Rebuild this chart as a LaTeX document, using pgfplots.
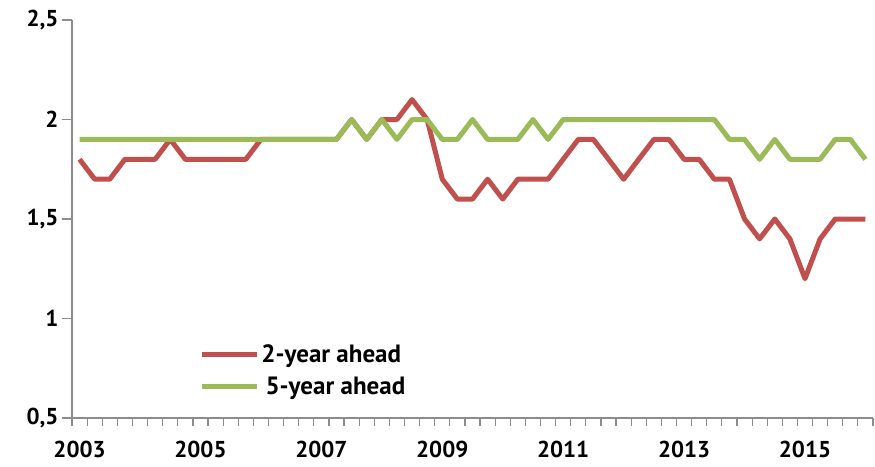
\documentclass[border=0pt]{standalone}
\usepackage{pgfplots}
\pgfplotsset{compat=1.18}
\usepackage{fontspec}
\setmainfont{PT Sans}

\definecolor{redline}{HTML}{C0504D}
\definecolor{greenline}{HTML}{9BBB59}
\definecolor{axisgray}{HTML}{8C8C8C}

\begin{document}
\begin{tikzpicture}
\begin{axis}[
    scale only axis,
    width=801pt, height=398pt,
    xmin=-0.5, xmax=52.5,
    ymin=0.5, ymax=2.5,
    axis x line*=bottom,
    axis y line*=left,
    axis line style={axisgray, line width=1.2pt},
    xtick={0,8,16,24,32,40,48},
    xticklabels={2003,2005,2007,2009,2011,2013,2015},
    minor xtick={-0.5,0.5,...,52.5},
    major x tick style={draw=none},
    minor tick length=8pt,
    ytick={0.5,1,1.5,2,2.5},
    major tick length=10pt,
    tick align=outside,
    tick style={axisgray, line width=1.2pt},
    /pgf/number format/use comma,
    /pgf/number format/assume math mode=true,
    tick label style={font=\fontsize{23}{26}\selectfont\bfseries},
    xticklabel style={yshift=-10pt},
    legend style={
        draw=none, fill=none,
        at={(0.155,0.195)}, anchor=north west,
        font=\fontsize{25}{28}\selectfont\bfseries,
        row sep=9pt,
        legend cell align=left,
    },
    legend image code/.code={\draw[#1] (0pt,0pt) -- (55pt,0pt);},
]
\addplot[redline, line width=5pt, line join=round] coordinates {
    (0,1.8) (1,1.7) (2,1.7) (3,1.8) (4,1.8) (5,1.8) (6,1.9) (7,1.8) (8,1.8) (9,1.8)
    (10,1.8) (11,1.8) (12,1.9) (13,1.9) (14,1.9) (15,1.9) (16,1.9) (17,1.9) (18,2.0) (19,1.9)
    (20,2.0) (21,2.0) (22,2.1) (23,2.0) (24,1.7) (25,1.6) (26,1.6) (27,1.7) (28,1.6) (29,1.7)
    (30,1.7) (31,1.7) (32,1.8) (33,1.9) (34,1.9) (35,1.8) (36,1.7) (37,1.8) (38,1.9) (39,1.9)
    (40,1.8) (41,1.8) (42,1.7) (43,1.7) (44,1.5) (45,1.4) (46,1.5) (47,1.4) (48,1.2) (49,1.4)
    (50,1.5) (51,1.5) (52,1.5)
};
\addlegendentry{2-year ahead}
\addplot[greenline, line width=5pt, line join=round] coordinates {
    (0,1.9) (1,1.9) (2,1.9) (3,1.9) (4,1.9) (5,1.9) (6,1.9) (7,1.9) (8,1.9) (9,1.9)
    (10,1.9) (11,1.9) (12,1.9) (13,1.9) (14,1.9) (15,1.9) (16,1.9) (17,1.9) (18,2.0) (19,1.9)
    (20,2.0) (21,1.9) (22,2.0) (23,2.0) (24,1.9) (25,1.9) (26,2.0) (27,1.9) (28,1.9) (29,1.9)
    (30,2.0) (31,1.9) (32,2.0) (33,2.0) (34,2.0) (35,2.0) (36,2.0) (37,2.0) (38,2.0) (39,2.0)
    (40,2.0) (41,2.0) (42,2.0) (43,1.9) (44,1.9) (45,1.8) (46,1.9) (47,1.8) (48,1.8) (49,1.8)
    (50,1.9) (51,1.9) (52,1.8)
};
\addlegendentry{\,5-year ahead}
\end{axis}
\path ([shift={(-72pt,-48pt)}]current axis.south west) rectangle ([shift={(2pt,20pt)}]current axis.north east);
\end{tikzpicture}
\end{document}
